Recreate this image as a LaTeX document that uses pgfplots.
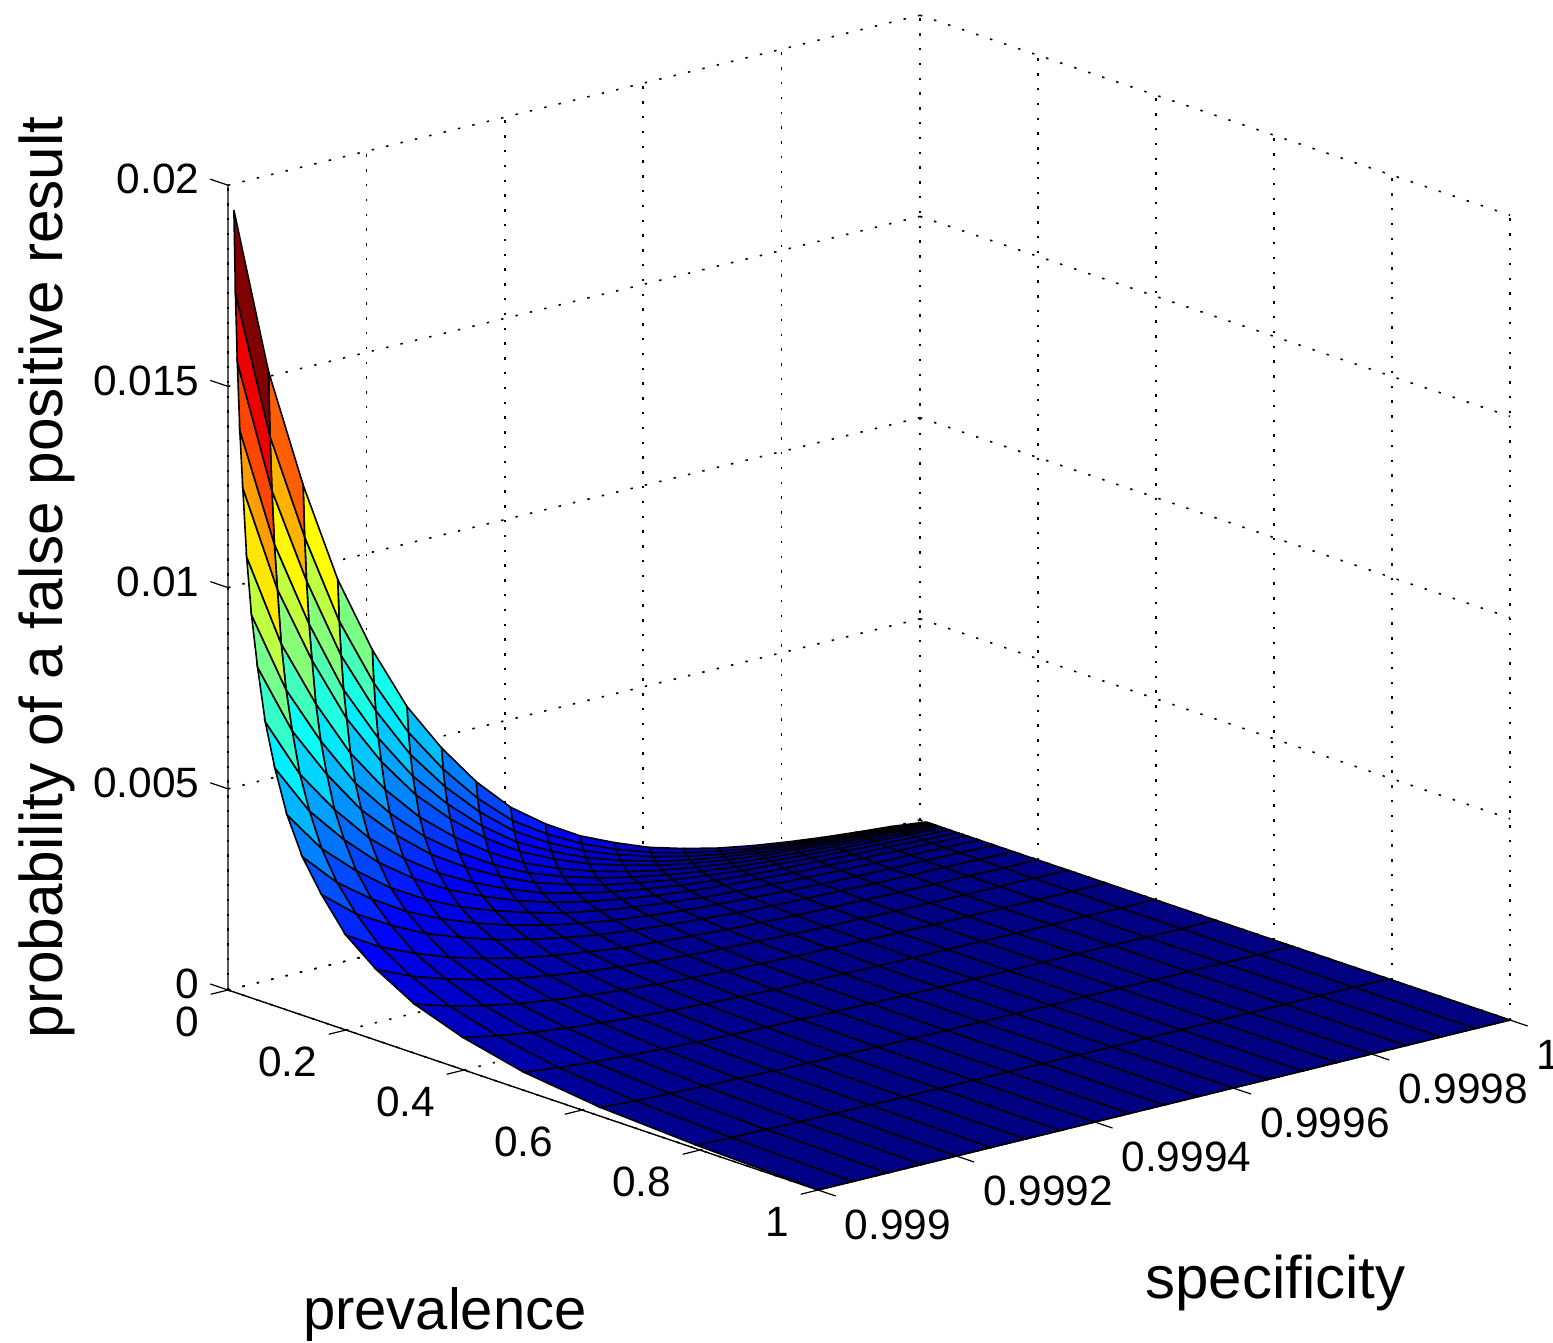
\documentclass[border=0pt]{standalone}
\usepackage{pgfplots}
\pgfplotsset{compat=1.18}
\usepackage{fontspec}
\setmainfont{Liberation Sans}
\pgfplotstableread[row sep=\\]{
x y z\\
0.01 0 19.43\\ .0126 0 17.38\\ .0158 0 15.68\\ .02 0 14.01\\ .0251 0 12.6\\ .0316 0 10.92\\ .0398 0 9.52\\ .0501 0 8.27\\ .0631 0 6.98\\ .0794 0 5.91\\ .1 0 4.85\\ .1259 0 3.94\\ .1585 0 3.16\\ .1995 0 2.36\\ .2512 0 1.76\\ .3162 0 1.22\\ .3981 0 .8\\ .5012 0 .45\\ .631 0 .22\\ .7943 0 .09\\ 1 0 0\\
0.01 .05 15.21\\ .0126 .05 13.61\\ .0158 .05 12.28\\ .02 .05 10.97\\ .0251 .05 9.87\\ .0316 .05 8.55\\ .0398 .05 7.45\\ .0501 .05 6.48\\ .0631 .05 5.47\\ .0794 .05 4.63\\ .1 .05 3.8\\ .1259 .05 3.09\\ .1585 .05 2.47\\ .1995 .05 1.85\\ .2512 .05 1.38\\ .3162 .05 .96\\ .3981 .05 .63\\ .5012 .05 .35\\ .631 .05 .17\\ .7943 .05 .07\\ 1 .05 0\\
0.01 .1 12.18\\ .0126 .1 10.9\\ .0158 .1 9.83\\ .02 .1 8.78\\ .0251 .1 7.9\\ .0316 .1 6.85\\ .0398 .1 5.97\\ .0501 .1 5.19\\ .0631 .1 4.38\\ .0794 .1 3.71\\ .1 .1 3.04\\ .1259 .1 2.47\\ .1585 .1 1.98\\ .1995 .1 1.48\\ .2512 .1 1.1\\ .3162 .1 .76\\ .3981 .1 .5\\ .5012 .1 .28\\ .631 .1 .14\\ .7943 .1 .06\\ 1 .1 0\\
0.01 .15 9.62\\ .0126 .15 8.6\\ .0158 .15 7.76\\ .02 .15 6.93\\ .0251 .15 6.24\\ .0316 .15 5.41\\ .0398 .15 4.71\\ .0501 .15 4.09\\ .0631 .15 3.46\\ .0794 .15 2.93\\ .1 .15 2.4\\ .1259 .15 1.95\\ .1585 .15 1.56\\ .1995 .15 1.17\\ .2512 .15 .87\\ .3162 .15 .6\\ .3981 .15 .4\\ .5012 .15 .22\\ .631 .15 .11\\ .7943 .15 .04\\ 1 .15 0\\
0.01 .2 7.66\\ .0126 .2 6.85\\ .0158 .2 6.18\\ .02 .2 5.52\\ .0251 .2 4.96\\ .0316 .2 4.3\\ .0398 .2 3.75\\ .0501 .2 3.26\\ .0631 .2 2.75\\ .0794 .2 2.33\\ .1 .2 1.91\\ .1259 .2 1.55\\ .1585 .2 1.25\\ .1995 .2 .93\\ .2512 .2 .69\\ .3162 .2 .48\\ .3981 .2 .32\\ .5012 .2 .18\\ .631 .2 .09\\ .7943 .2 .04\\ 1 .2 0\\
0.01 .25 6.04\\ .0126 .25 5.41\\ .0158 .25 4.88\\ .02 .25 4.36\\ .0251 .25 3.92\\ .0316 .25 3.4\\ .0398 .25 2.96\\ .0501 .25 2.57\\ .0631 .25 2.17\\ .0794 .25 1.84\\ .1 .25 1.51\\ .1259 .25 1.23\\ .1585 .25 .98\\ .1995 .25 .73\\ .2512 .25 .55\\ .3162 .25 .38\\ .3981 .25 .25\\ .5012 .25 .14\\ .631 .25 .07\\ .7943 .25 .03\\ 1 .25 0\\
0.01 .3 4.8\\ .0126 .3 4.29\\ .0158 .3 3.87\\ .02 .3 3.46\\ .0251 .3 3.11\\ .0316 .3 2.7\\ .0398 .3 2.35\\ .0501 .3 2.04\\ .0631 .3 1.72\\ .0794 .3 1.46\\ .1 .3 1.2\\ .1259 .3 .97\\ .1585 .3 .78\\ .1995 .3 .58\\ .2512 .3 .43\\ .3162 .3 .3\\ .3981 .3 .2\\ .5012 .3 .11\\ .631 .3 .05\\ .7943 .3 .02\\ 1 .3 0\\
0.01 .35 3.75\\ .0126 .35 3.35\\ .0158 .35 3.03\\ .02 .35 2.7\\ .0251 .35 2.43\\ .0316 .35 2.11\\ .0398 .35 1.84\\ .0501 .35 1.6\\ .0631 .35 1.35\\ .0794 .35 1.14\\ .1 .35 .94\\ .1259 .35 .76\\ .1585 .35 .61\\ .1995 .35 .46\\ .2512 .35 .34\\ .3162 .35 .24\\ .3981 .35 .15\\ .5012 .35 .09\\ .631 .35 .04\\ .7943 .35 .02\\ 1 .35 0\\
0.01 .4 2.9\\ .0126 .4 2.59\\ .0158 .4 2.34\\ .02 .4 2.09\\ .0251 .4 1.88\\ .0316 .4 1.63\\ .0398 .4 1.42\\ .0501 .4 1.23\\ .0631 .4 1.04\\ .0794 .4 .88\\ .1 .4 .72\\ .1259 .4 .59\\ .1585 .4 .47\\ .1995 .4 .35\\ .2512 .4 .26\\ .3162 .4 .18\\ .3981 .4 .12\\ .5012 .4 .07\\ .631 .4 .03\\ .7943 .4 .01\\ 1 .4 0\\
0.01 .45 2.28\\ .0126 .45 2.04\\ .0158 .45 1.84\\ .02 .45 1.65\\ .0251 .45 1.48\\ .0316 .45 1.28\\ .0398 .45 1.12\\ .0501 .45 .97\\ .0631 .45 .82\\ .0794 .45 .69\\ .1 .45 .57\\ .1259 .45 .46\\ .1585 .45 .37\\ .1995 .45 .28\\ .2512 .45 .21\\ .3162 .45 .14\\ .3981 .45 .09\\ .5012 .45 .05\\ .631 .45 .03\\ .7943 .45 .01\\ 1 .45 0\\
0.01 .5 1.77\\ .0126 .5 1.59\\ .0158 .5 1.43\\ .02 .5 1.28\\ .0251 .5 1.15\\ .0316 .5 1\\ .0398 .5 .87\\ .0501 .5 .75\\ .0631 .5 .64\\ .0794 .5 .54\\ .1 .5 .44\\ .1259 .5 .36\\ .1585 .5 .29\\ .1995 .5 .22\\ .2512 .5 .16\\ .3162 .5 .11\\ .3981 .5 .07\\ .5012 .5 .04\\ .631 .5 .02\\ .7943 .5 .01\\ 1 .5 0\\
0.01 .55 1.39\\ .0126 .55 1.24\\ .0158 .55 1.12\\ .02 .55 1\\ .0251 .55 .9\\ .0316 .55 .78\\ .0398 .55 .68\\ .0501 .55 .59\\ .0631 .55 .5\\ .0794 .55 .42\\ .1 .55 .35\\ .1259 .55 .28\\ .1585 .55 .23\\ .1995 .55 .17\\ .2512 .55 .13\\ .3162 .55 .09\\ .3981 .55 .06\\ .5012 .55 .03\\ .631 .55 .02\\ .7943 .55 .01\\ 1 .55 0\\
0.01 .6 1.06\\ .0126 .6 .95\\ .0158 .6 .86\\ .02 .6 .76\\ .0251 .6 .69\\ .0316 .6 .6\\ .0398 .6 .52\\ .0501 .6 .45\\ .0631 .6 .38\\ .0794 .6 .32\\ .1 .6 .26\\ .1259 .6 .22\\ .1585 .6 .17\\ .1995 .6 .13\\ .2512 .6 .1\\ .3162 .6 .07\\ .3981 .6 .04\\ .5012 .6 .02\\ .631 .6 .01\\ .7943 .6 0\\ 1 .6 0\\
0.01 .65 .82\\ .0126 .65 .73\\ .0158 .65 .66\\ .02 .65 .59\\ .0251 .65 .53\\ .0316 .65 .46\\ .0398 .65 .4\\ .0501 .65 .35\\ .0631 .65 .29\\ .0794 .65 .25\\ .1 .65 .2\\ .1259 .65 .17\\ .1585 .65 .13\\ .1995 .65 .1\\ .2512 .65 .07\\ .3162 .65 .05\\ .3981 .65 .03\\ .5012 .65 .02\\ .631 .65 .01\\ .7943 .65 0\\ 1 .65 0\\
0.01 .7 .62\\ .0126 .7 .56\\ .0158 .7 .5\\ .02 .7 .45\\ .0251 .7 .4\\ .0316 .7 .35\\ .0398 .7 .3\\ .0501 .7 .26\\ .0631 .7 .22\\ .0794 .7 .19\\ .1 .7 .16\\ .1259 .7 .13\\ .1585 .7 .1\\ .1995 .7 .08\\ .2512 .7 .06\\ .3162 .7 .04\\ .3981 .7 .03\\ .5012 .7 .01\\ .631 .7 .01\\ .7943 .7 0\\ 1 .7 0\\
0.01 .75 .47\\ .0126 .75 .42\\ .0158 .75 .38\\ .02 .75 .34\\ .0251 .75 .3\\ .0316 .75 .26\\ .0398 .75 .23\\ .0501 .75 .2\\ .0631 .75 .17\\ .0794 .75 .14\\ .1 .75 .12\\ .1259 .75 .09\\ .1585 .75 .08\\ .1995 .75 .06\\ .2512 .75 .04\\ .3162 .75 .03\\ .3981 .75 .02\\ .5012 .75 .01\\ .631 .75 .01\\ .7943 .75 0\\ 1 .75 0\\
0.01 .8 .35\\ .0126 .8 .31\\ .0158 .8 .28\\ .02 .8 .25\\ .0251 .8 .23\\ .0316 .8 .2\\ .0398 .8 .17\\ .0501 .8 .15\\ .0631 .8 .13\\ .0794 .8 .11\\ .1 .8 .09\\ .1259 .8 .07\\ .1585 .8 .06\\ .1995 .8 .04\\ .2512 .8 .03\\ .3162 .8 .02\\ .3981 .8 .01\\ .5012 .8 .01\\ .631 .8 0\\ .7943 .8 0\\ 1 .8 0\\
0.01 .85 .25\\ .0126 .85 .23\\ .0158 .85 .2\\ .02 .85 .18\\ .0251 .85 .16\\ .0316 .85 .14\\ .0398 .85 .12\\ .0501 .85 .11\\ .0631 .85 .09\\ .0794 .85 .08\\ .1 .85 .06\\ .1259 .85 .05\\ .1585 .85 .04\\ .1995 .85 .03\\ .2512 .85 .02\\ .3162 .85 .02\\ .3981 .85 .01\\ .5012 .85 .01\\ .631 .85 0\\ .7943 .85 0\\ 1 .85 0\\
0.01 .9 .17\\ .0126 .9 .16\\ .0158 .9 .14\\ .02 .9 .13\\ .0251 .9 .11\\ .0316 .9 .1\\ .0398 .9 .09\\ .0501 .9 .07\\ .0631 .9 .06\\ .0794 .9 .05\\ .1 .9 .04\\ .1259 .9 .04\\ .1585 .9 .03\\ .1995 .9 .02\\ .2512 .9 .02\\ .3162 .9 .01\\ .3981 .9 .01\\ .5012 .9 0\\ .631 .9 0\\ .7943 .9 0\\ 1 .9 0\\
0.01 .95 .1\\ .0126 .95 .09\\ .0158 .95 .08\\ .02 .95 .07\\ .0251 .95 .06\\ .0316 .95 .05\\ .0398 .95 .05\\ .0501 .95 .04\\ .0631 .95 .03\\ .0794 .95 .03\\ .1 .95 .02\\ .1259 .95 .02\\ .1585 .95 .02\\ .1995 .95 .01\\ .2512 .95 .01\\ .3162 .95 .01\\ .3981 .95 0\\ .5012 .95 0\\ .631 .95 0\\ .7943 .95 0\\ 1 .95 0\\
0.01 1 0\\ .0126 1 0\\ .0158 1 0\\ .02 1 0\\ .0251 1 0\\ .0316 1 0\\ .0398 1 0\\ .0501 1 0\\ .0631 1 0\\ .0794 1 0\\ .1 1 0\\ .1259 1 0\\ .1585 1 0\\ .1995 1 0\\ .2512 1 0\\ .3162 1 0\\ .3981 1 0\\ .5012 1 0\\ .631 1 0\\ .7943 1 0\\ 1 1 0\\
}\surfdata
\pgfplotsset{colormap={mjet}{rgb255=(0,0,128) rgb255=(0,0,255) rgb255=(0,128,255) rgb255=(0,255,255) rgb255=(128,255,128) rgb255=(255,255,0) rgb255=(255,128,0) rgb255=(255,0,0) rgb255=(128,0,0)}}
\begin{document}
\begin{tikzpicture}
\useasboundingbox (-57pt,-88pt) rectangle (331.25pt,247.5pt);
\begin{axis}[
  at={(0,0)},anchor=origin,
  x={(147.5pt,-50pt)},y={(173pt,42.5pt)},z={(0pt,10.06pt)},
  xmin=0,xmax=1,ymin=0,ymax=1,zmin=0,zmax=20,
  xtick={0,0.2,0.4,0.6,0.8,1},ytick={0,0.2,0.4,0.6,0.8,1},ztick={0,5,10,15,20},
  xticklabels={0,0.2,0.4,0.6,0.8,1},
  yticklabels={0.999,0.9992,0.9994,0.9996,0.9998,1},
  zticklabels={0,0.005,0.01,0.015,0.02},
  grid=major,
  grid style={black,line width=0.4pt,dash pattern=on 0.6pt off 3.1pt},
  axis line style={draw=none},
  major tick length=0pt,
  ticklabel style={font=\fontsize{10.6}{12}\selectfont,inner sep=0pt},
  xticklabel style={anchor=east,xshift=-7pt,yshift=-8pt},
  yticklabel style={anchor=west,xshift=6.5pt,yshift=-8.75pt},
  zticklabel style={anchor=east,xshift=-7pt,yshift=1.5pt},
  xlabel={prevalence},ylabel={specificity},zlabel={probability of a false positive result},
  every axis x label/.style={at={(axis cs:1.0965,-0.6214,0)},anchor=center,font=\fontsize{14.5}{17}\selectfont},
  every axis y label/.style={at={(axis cs:1.5955,0.1536,0)},anchor=center,font=\fontsize{15}{17}\selectfont},
  every axis z label/.style={at={(axis cs:-0.3068,0,8.73)},anchor=center,rotate=90,font=\fontsize{15.08}{17}\selectfont},
  colormap name=mjet,
  point meta min=-0.01,point meta max=19.43,
  clip=false,
]
\addplot3[surf,shader=flat corner,draw=black,line width=0.4pt,z buffer=sort,mesh/rows=21,mesh/cols=21] table {\surfdata};
\draw[black,line width=0.35pt] (axis cs:0,0,20)--(axis cs:0,0,0)--(axis cs:1,0,0)--(axis cs:1,1,0);
\pgfplotsinvokeforeach{0,0.2,0.4,0.6,0.8,1}{
  \draw[black,line width=0.3pt] (axis cs:#1,0,0)--(axis cs:#1,-0.025,0);
  \draw[black,line width=0.3pt] (axis cs:1,#1,0)--(axis cs:1.03,#1,0);
}
\pgfplotsinvokeforeach{0,5,10,15,20}{
  \draw[black,line width=0.3pt] (axis cs:0,0,#1)--(axis cs:-0.03,0,#1);
}
\end{axis}
\end{tikzpicture}
\end{document}
